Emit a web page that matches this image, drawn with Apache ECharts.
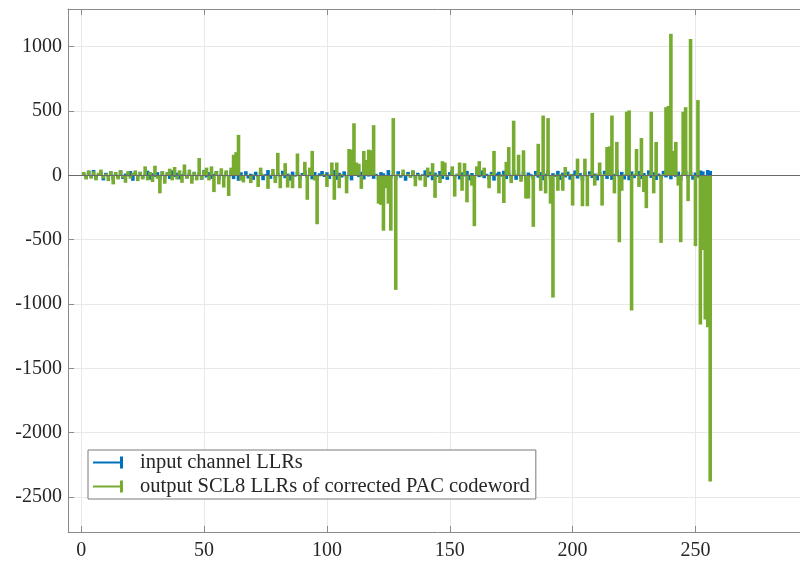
<!DOCTYPE html>
<html>
<head>
<meta charset="utf-8">
<title>LLRs</title>
<script src="https://cdn.jsdelivr.net/npm/echarts@6/dist/echarts.min.js"></script>
<style>
  html, body { margin: 0; padding: 0; background: #fff; overflow: hidden; }
  /* the plot box runs past the right edge of the window, as in the cropped original */
  #chart { width: 810px; height: 562px; }
</style>
</head>
<body>
<div id="chart"></div>
<script>
// bit index 1..256
var bitIndex = [];
for (var k = 1; k <= 256; k++) bitIndex.push(k);

// input channel LLRs (small, around zero)
var inputLLR = [
  17, -25, 35, -12, 42, -31, 8, 25, -39, 20,
  -14, 31, -35, 12, -21, 39, -28, 14, -8, 34,
  -42, 22, -17, 28, -25, 9, 36, -34, 17, -12,
  25, -36, 31, -20, 13, -28, 39, -14, 21, -31,
  9, 35, -24, 16, -39, 28, -9, 20, -34, 42,
  -17, 25, -28, 12, 34, -36, 14, -21, 31, -13,
  38, -29, 18, -42, 24, -8, 32, -25, 13, -35,
  28, -16, 22, -38, 10, 41, -27, 17, -32, 21,
  -12, 36, -22, 14, -41, 29, -10, 25, -34, 18,
  39, -20, 12, -31, 27, -38, 16, 34, -13, 24,
  -28, 9, 42, -35, 20, -17, 31, -25, 13, -39,
  22, 35, -14, 28, -32, 17, -9, 38, -27, 12,
  -36, 25, 16, -29, 41, -21, 10, -34, 32, -18,
  14, -42, 27, -12, 36, -24, 20, -31, 9, 39,
  -16, 29, -38, 21, -13, 34, -28, 17, -35, 25,
  42, -20, 13, -32, 24, -9, 35, -39, 18, -25,
  31, -14, 38, -22, 12, -34, 27, -41, 16, 28,
  -10, 36, -29, 20, -17, 39, -35, 14, -24, 32,
  -42, 22, 9, -31, 34, -18, 25, -38, 13, 41,
  -27, 17, -12, 35, -36, 21, -16, 29, -34, 10,
  38, -25, 18, -41, 28, -13, 32, -21, 14, -39,
  24, -9, 36, -28, 20, -35, 12, 42, -17, 27,
  -32, 16, -38, 31, -22, 13, 34, -29, 18, -10,
  39, -20, 25, -36, 14, -27, 35, -16, 41, -31,
  21, -12, 29, -42, 17, 36, -24, 28, -34, 22,
  -18, 38, 31, -25, 42, 34
];

// output SCL8 LLRs of corrected PAC codeword
var outputLLR = [
  26, -32, 39, -26, 32, -39, 20, 45, -26, 13,
  -45, 32, -70, 26, -32, 39, -20, -58, 32, -26,
  20, 39, -45, 26, -32, 70, -39, 26, -52, 75,
  -26, -140, 32, -65, 26, 52, -39, 65, -32, 39,
  -58, 85, -26, 45, -65, 26, -39, 135, -32, 39,
  60, -39, 70, -130, 32, -70, 55, -95, 39, -160,
  60, 160, 180, 315, -40, -55, 6, -5, -60, 8,
  -6, -90, 60, 8, -6, -105, 5, 50, -60, 175,
  -100, 6, 95, -95, 8, -100, -6, 170, -100, 6,
  105, -190, 60, 190, -40, -380, -8, 6, 10, -90,
  8, 100, -190, 100, -100, 10, -6, -140, 205, 200,
  405, 100, 90, -105, 190, 120, 200, 195, 390, 6,
  -220, -230, -430, -100, -220, -430, 445, -890, 10, -8,
  45, -6, 12, -20, 40, -85, 8, -40, 6, -90,
  60, 10, 95, -175, 8, -60, 110, 100, -12, 6,
  70, -165, 10, 100, -120, 95, -210, 8, -80, -395,
  70, 110, -10, 60, -6, -100, 12, 190, -8, -140,
  10, -215, 105, 220, -60, 425, 8, 160, -50, 195,
  -180, -180, -10, -400, 6, 245, -120, 465, -140, 445,
  -220, -950, 8, -120, 10, -120, 65, -6, 12, -235,
  6, 130, -10, -240, 130, -240, 8, 485, -80, 12,
  100, -235, 10, 220, 225, 465, -140, 260, -520, -120,
  8, 495, 505, -1050, 12, 205, -90, 290, -130, -255,
  6, 495, -140, 260, -8, -525, 10, 530, 540, 1100,
  190, 260, -80, -520, 495, 530, -200, 1060, -6, -550,
  585, -1160, -580, -1120, -1180, -2380
];

var seriesNames = ['input channel LLRs', 'output SCL8 LLRs of corrected PAC codeword'];
var xTickStep = 50;
var yTickStep = 500;

function pairs(ys) {
  return ys.map(function (v, i) { return [bitIndex[i], v]; });
}

var serif = 'Liberation Serif';
var legendIcon = 'path://M0,5L27,5L27,0L30,0L30,12L27,12L27,7L0,7Z';
var axisGray = '#8a8a8a';
var blue = '#0072BD', green = '#77AC30';
var xMin = -5.4, xMax = 295.4;

// one stem: vertical line from the baseline to the value
function stem(color) {
  return function (params, api) {
    var base = api.coord([api.value(0), 0]);
    var tip = api.coord([api.value(0), api.value(1)]);
    return {
      type: 'line',
      shape: { x1: base[0], y1: base[1], x2: tip[0], y2: tip[1] },
      style: { stroke: color, lineWidth: 3.6 }
    };
  };
}

var chart = echarts.init(document.getElementById('chart'));
chart.setOption({
  animation: false,
  backgroundColor: '#ffffff',
  grid: { left: 68, top: 9, right: 0, bottom: 30, containLabel: false },
  legend: {
    data: [
      { name: seriesNames[0], icon: legendIcon },
      { name: seriesNames[1], icon: legendIcon }
    ],
    orient: 'vertical',
    left: 88,
    top: 450,
    itemWidth: 32,
    itemHeight: 12,
    itemGap: 3,
    padding: [2, 6, 2, 5],
    backgroundColor: '#ffffff',
    borderColor: '#7a7a7a',
    borderWidth: 1,
    borderRadius: 0,
    textStyle: { fontFamily: serif, fontSize: 20.5, color: '#262626', padding: [0, 0, 0, 11] }
  },
  xAxis: [{
    type: 'value',
    min: xMin,
    max: xMax,
    splitNumber: 6,
    axisLine: { show: true, onZero: false, lineStyle: { color: axisGray, width: 1 } },
    axisTick: { show: true, inside: true, length: 6, lineStyle: { color: axisGray } },
    axisLabel: {
      margin: 9, fontFamily: serif, fontSize: 20, color: '#262626',
      formatter: function (v) { return v % xTickStep === 0 ? String(v) : ''; }
    },
    splitLine: { show: true, showMinLine: false, showMaxLine: false, lineStyle: { color: '#e8e8e8', width: 1 } }
  }, {
    type: 'value',
    position: 'top',
    min: xMin,
    max: xMax,
    splitNumber: 6,
    axisLine: { show: true, onZero: false, lineStyle: { color: axisGray, width: 1 } },
    axisTick: { show: true, inside: true, length: 6, lineStyle: { color: axisGray } },
    axisLabel: { show: false },
    splitLine: { show: false }
  }],
  yAxis: {
    type: 'value',
    min: -2772,
    max: 1293,
    splitNumber: 8,
    axisLine: { show: true, onZero: false, lineStyle: { color: axisGray, width: 1 } },
    axisTick: { show: true, inside: true, length: 6, lineStyle: { color: axisGray } },
    axisLabel: {
      margin: 6, fontFamily: serif, fontSize: 20, color: '#262626',
      formatter: function (v) { return v % yTickStep === 0 ? String(v) : ''; }
    },
    splitLine: { show: true, showMinLine: false, showMaxLine: false, lineStyle: { color: '#e8e8e8', width: 1 } }
  },
  series: [{
    name: seriesNames[0],
    type: 'custom',
    data: pairs(inputLLR),
    renderItem: stem(blue),
    encode: { x: 0, y: 1 },
    itemStyle: { color: blue },
    z: 2,
    markLine: {
      silent: true,
      symbol: 'none',
      label: { show: false },
      lineStyle: { color: '#6a6a6a', width: 1, type: 'solid' },
      data: [{ yAxis: 0 }]
    }
  }, {
    name: seriesNames[1],
    type: 'custom',
    data: pairs(outputLLR),
    renderItem: stem(green),
    encode: { x: 0, y: 1 },
    itemStyle: { color: green },
    z: 3
  }]
});
</script>
</body>
</html>
